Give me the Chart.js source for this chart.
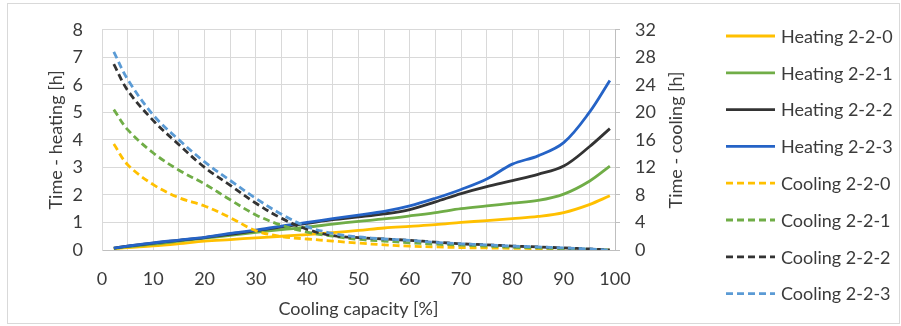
<!DOCTYPE html>
<html>
<head>
<meta charset="utf-8">
<title>Heating and cooling time vs cooling capacity</title>
<script src="https://cdn.jsdelivr.net/npm/chart.js@4/dist/chart.umd.min.js"></script>
<style>
  html, body { margin: 0; padding: 0; background: #ffffff; }
  #wrap { width: 901px; height: 326px; position: relative; }
</style>
</head>
<body>
<div id="wrap"><canvas id="chart" width="901" height="326"></canvas></div>
<script>
// Cooling capacity [%]
const capacity = [2.3, 5, 10, 15, 20, 25, 30, 35, 40, 45, 50, 55, 60, 65, 70, 75, 80, 85, 90, 95, 99];

// Heating time [h] (left axis)
const heating220 = [0.05, 0.09, 0.15, 0.23, 0.32, 0.38, 0.44, 0.50, 0.56, 0.63, 0.71, 0.80, 0.86, 0.92, 1.00, 1.07, 1.14, 1.22, 1.36, 1.65, 1.97];
const heating221 = [0.06, 0.12, 0.21, 0.32, 0.43, 0.53, 0.64, 0.74, 0.83, 0.94, 1.04, 1.13, 1.24, 1.36, 1.50, 1.60, 1.70, 1.80, 2.03, 2.50, 3.05];
const heating222 = [0.07, 0.14, 0.25, 0.35, 0.45, 0.57, 0.70, 0.84, 0.97, 1.10, 1.20, 1.31, 1.47, 1.75, 2.05, 2.30, 2.52, 2.75, 3.05, 3.75, 4.41];
const heating223 = [0.07, 0.14, 0.26, 0.36, 0.46, 0.60, 0.72, 0.87, 1.00, 1.14, 1.27, 1.40, 1.60, 1.88, 2.20, 2.58, 3.12, 3.42, 3.90, 5.00, 6.16];

// Cooling time [h] (right axis)
const cooling220 = [15.4, 12.4, 9.5, 7.6, 6.4, 4.7, 2.8, 1.95, 1.6, 1.3, 1.0, 0.75, 0.55, 0.45, 0.35, 0.30, 0.25, 0.20, 0.12, 0.06, 0.0];
const cooling221 = [20.4, 17.5, 14.1, 11.6, 9.6, 7.3, 5.1, 3.6, 2.6, 2.0, 1.55, 1.30, 1.05, 0.85, 0.70, 0.55, 0.40, 0.30, 0.20, 0.10, 0.0];
const cooling222 = [27.0, 23.2, 18.8, 15.3, 12.0, 9.4, 6.8, 4.6, 3.0, 2.1, 1.8, 1.6, 1.4, 1.15, 0.90, 0.75, 0.57, 0.45, 0.30, 0.15, 0.0];
const cooling223 = [28.8, 24.8, 19.6, 16.0, 12.8, 10.1, 7.5, 5.2, 3.4, 2.4, 1.9, 1.6, 1.4, 1.10, 0.90, 0.75, 0.57, 0.45, 0.30, 0.15, 0.0];

const seriesLabels = [
  'Heating 2-2-0', 'Heating 2-2-1', 'Heating 2-2-2', 'Heating 2-2-3',
  'Cooling 2-2-0', 'Cooling 2-2-1', 'Cooling 2-2-2', 'Cooling 2-2-3'
];

const FONT = 'Lato, "Open Sans", sans-serif';
const TEXT = '#3b3b3b';
const GRID = '#d9d9d9';
const AXIS = '#bfbfbf';

const colors = ['#FFC000', '#70AD47', '#333333', '#2563C6', '#FFC000', '#70AD47', '#333333', '#5B9BD5'];
const valueSets = [heating220, heating221, heating222, heating223, cooling220, cooling221, cooling222, cooling223];

const datasets = valueSets.map((vals, i) => {
  const cooling = i >= 4;
  return {
    label: seriesLabels[i],
    data: capacity.map((c, k) => ({ x: c, y: vals[k] })),
    yAxisID: cooling ? 'y1' : 'y',
    borderColor: colors[i],
    backgroundColor: colors[i],
    borderWidth: 2.8,
    borderDash: cooling ? [7, 4] : [],
    pointRadius: 0,
    pointHoverRadius: 0,
    tension: 0.35,
    fill: false,
    order: -i
  };
});

// Legend on the right, drawn from the datasets, plus the outer frame and the right axis title
const sidePieces = {
  id: 'sidePieces',
  afterDraw(chart) {
    const ctx = chart.ctx;
    ctx.save();
    // frame
    ctx.strokeStyle = '#d9d9d9';
    ctx.lineWidth = 1;
    ctx.strokeRect(7.5, 3.5, 892, 320);

    // right axis title, reading bottom to top
    const ca = chart.chartArea;
    ctx.translate(676, (ca.top + ca.bottom) / 2);
    ctx.rotate(-Math.PI / 2);
    ctx.fillStyle = TEXT;
    ctx.font = '18px ' + FONT;
    ctx.textAlign = 'center';
    ctx.textBaseline = 'middle';
    ctx.fillText('Time - cooling [h]', 0, 0);
    ctx.restore();

    // legend
    ctx.save();
    ctx.font = '18px ' + FONT;
    ctx.textAlign = 'left';
    ctx.textBaseline = 'middle';
    chart.data.datasets.forEach((ds, i) => {
      const y = 36 + i * 36.8;
      ctx.beginPath();
      ctx.strokeStyle = ds.borderColor;
      ctx.lineWidth = ds.borderWidth;
      ctx.setLineDash(ds.borderDash || []);
      ctx.moveTo(726, y);
      ctx.lineTo(775, y);
      ctx.stroke();
      ctx.setLineDash([]);
      ctx.fillStyle = TEXT;
      ctx.fillText(ds.label, 781, y + 1);
    });
    ctx.restore();
  }
};

new Chart(document.getElementById('chart'), {
  type: 'line',
  data: { datasets },
  plugins: [sidePieces],
  options: {
    responsive: false,
    animation: false,
    events: [],
    layout: { padding: { left: 8, right: 211, top: 25, bottom: 6 } },
    plugins: {
      legend: { display: false },
      tooltip: { enabled: false }
    },
    scales: {
      x: {
        type: 'linear',
        position: 'bottom',
        min: 0,
        max: 100,
        afterFit(scale) { scale.height = 70; },
        ticks: {
          stepSize: 5,
          autoSkip: false,
          maxRotation: 0,
          padding: 18,
          color: TEXT,
          font: { family: FONT, size: 18 },
          callback: (v) => (v % 10 === 0 ? String(v) : '')
        },
        grid: { color: GRID, drawTicks: false },
        border: { color: AXIS },
        title: {
          display: true,
          text: 'Cooling capacity [%]',
          color: TEXT,
          font: { family: FONT, size: 18 },
          padding: { top: 4, bottom: 0 }
        }
      },
      y: {
        position: 'left',
        min: 0,
        max: 8,
        afterFit(scale) { scale.width = 94; },
        ticks: {
          stepSize: 1,
          padding: 19,
          color: TEXT,
          font: { family: FONT, size: 18 }
        },
        grid: { color: GRID, drawTicks: false },
        border: { color: GRID },
        title: {
          display: true,
          text: 'Time - heating [h]',
          color: TEXT,
          font: { family: FONT, size: 18 },
          padding: { top: 37, bottom: 0 }
        }
      },
      y1: {
        position: 'right',
        min: 0,
        max: 32,
        afterFit(scale) { scale.width = 75; },
        ticks: {
          stepSize: 4,
          padding: 15,
          color: TEXT,
          font: { family: FONT, size: 18 }
        },
        grid: { drawOnChartArea: false, color: AXIS, tickLength: 5 },
        border: { color: AXIS }
      }
    }
  }
});
</script>
</body>
</html>
